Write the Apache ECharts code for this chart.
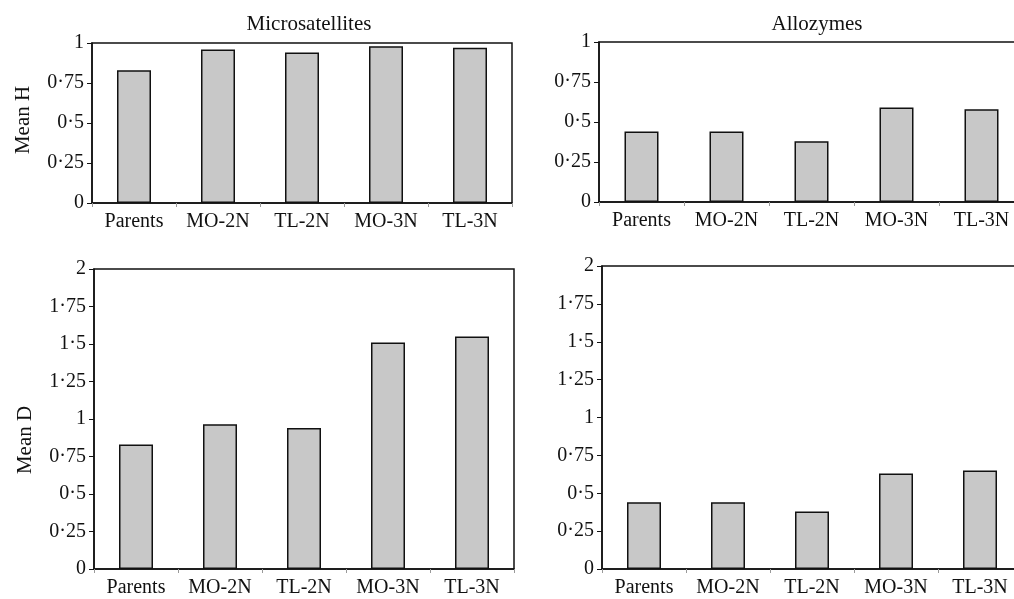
<!DOCTYPE html>
<html>
<head>
<meta charset="utf-8">
<script src="https://cdn.jsdelivr.net/npm/echarts@6/dist/echarts.min.js"></script>
<style>
html,body{margin:0;padding:0;background:#fff;overflow:hidden;width:1014px;height:599px;}
#c{width:1034px;height:599px;}
</style>
</head>
<body>
<div id="c"></div>
<script>
var categories = ['Parents', 'MO-2N', 'TL-2N', 'MO-3N', 'TL-3N'];
var microH = [0.83, 0.96, 0.94, 0.98, 0.97];
var alloH = [0.44, 0.44, 0.38, 0.59, 0.58];
var microD = [0.83, 0.965, 0.94, 1.51, 1.55];
var alloD = [0.44, 0.44, 0.38, 0.63, 0.65];
var panelTitles = ['Microsatellites', 'Allozymes'];
var yNames = ['Mean H', 'Mean D'];

var FONT = 'Liberation Serif';
var chart = echarts.init(document.getElementById('c'));
var grids = [
  {left: 92, top: 43, width: 420, height: 160},
  {left: 599, top: 42, width: 425, height: 160},
  {left: 94, top: 269, width: 420, height: 300},
  {left: 602, top: 266, width: 420, height: 303}
];
var maxes = [1, 1, 2, 2];
var datas = [microH, alloH, microD, alloD];
var namePads = [[0, 0, 0, 6], null, [0, 42, 0, 0], null];
var xAxes = [], yAxes = [], series = [];
grids.forEach(function(g, i){
  g.show = true; g.borderColor = '#111'; g.borderWidth = 1.5; g.backgroundColor = 'transparent';
  xAxes.push({
    type: 'category', gridIndex: i, data: categories,
    axisLine: {lineStyle: {color: '#111', width: 1.5}},
    axisTick: {show: true, length: 4, lineStyle: {color: '#999'}},
    axisLabel: {color: '#111', fontFamily: FONT, fontSize: 20, margin: 9}
  });
  yAxes.push({
    type: 'value', gridIndex: i, min: 0, max: maxes[i], interval: 0.25,
    name: (i % 2 === 0) ? yNames[i / 2] : '',
    nameLocation: 'middle', nameGap: 58, nameRotate: 90,
    nameTextStyle: {color: '#111', fontFamily: FONT, fontSize: 21, padding: namePads[i] || 0},
    axisLine: {show: true, lineStyle: {color: '#111', width: 1.5}},
    axisTick: {show: true, length: 5, lineStyle: {color: '#111'}},
    splitLine: {show: false},
    axisLabel: {color: '#111', fontFamily: FONT, fontSize: 20, margin: 8,
      formatter: function(v){ return String(v).replace('.', '·'); }}
  });
  series.push({
    type: 'bar', xAxisIndex: i, yAxisIndex: i, data: datas[i], barWidth: 34,
    itemStyle: {color: '#c8c8c8', borderColor: '#111', borderWidth: 1.5},
    silent: true
  });
});
chart.setOption({
  animation: false,
  backgroundColor: '#fff',
  title: [
    {text: panelTitles[0], left: 304, top: 9, textAlign: 'center',
     textStyle: {fontFamily: FONT, fontSize: 21, fontWeight: 'normal', color: '#111'}},
    {text: panelTitles[1], left: 812, top: 9, textAlign: 'center',
     textStyle: {fontFamily: FONT, fontSize: 21, fontWeight: 'normal', color: '#111'}}
  ],
  grid: grids,
  xAxis: xAxes,
  yAxis: yAxes,
  series: series
});
</script>
</body>
</html>
